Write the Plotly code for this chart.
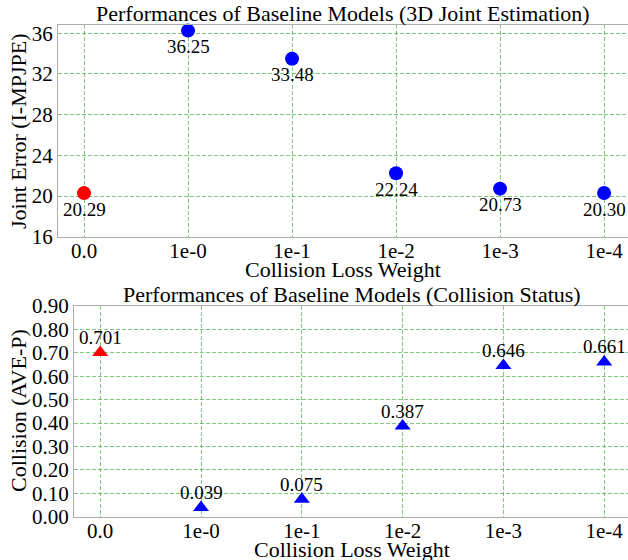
import plotly.graph_objects as go

categories = ["0.0", "1e-0", "1e-1", "1e-2", "1e-3", "1e-4"]
joint_error = [20.29, 36.25, 33.48, 22.24, 20.73, 20.30]
collision = [0.701, 0.039, 0.075, 0.387, 0.646, 0.661]
point_colors = ["#ff0000", "#0000ff", "#0000ff", "#0000ff", "#0000ff", "#0000ff"]
joint_ticks = [16, 20, 24, 28, 32, 36]
coll_ticks = [0.0, 0.1, 0.2, 0.3, 0.4, 0.5, 0.6, 0.7, 0.8, 0.9]

FONT = "Liberation Serif"
W, H = 628, 560

fig = go.Figure()
fig.add_trace(go.Scatter(
    x=categories, y=joint_error, mode="markers",
    marker=dict(symbol="circle", size=14, color=point_colors),
    xaxis="x", yaxis="y", showlegend=False, cliponaxis=False))
fig.add_trace(go.Scatter(
    x=categories, y=collision, mode="markers",
    marker=dict(symbol="triangle-up", size=14, color=point_colors),
    xaxis="x2", yaxis="y2", showlegend=False, cliponaxis=False))

lab_font = dict(family=FONT, size=19, color="black")
for i, v in enumerate(joint_error):
    fig.add_annotation(x=i, y=v, xref="x", yref="y", text=f"{v:.2f}", showarrow=False,
                       xanchor="center", yanchor="middle", yshift=-16, font=lab_font)
for i, v in enumerate(collision):
    fig.add_annotation(x=i, y=v, xref="x2", yref="y2", text=f"{v:.3f}", showarrow=False,
                       xanchor="center", yanchor="middle", yshift=15, font=lab_font)

grid = dict(showgrid=True, gridcolor="rgba(0,150,0,0.5)", griddash="4px,2px", gridwidth=1,
            zeroline=False, showline=True, linecolor="#ababab", linewidth=1.3,
            ticks="", automargin=False,
            tickfont=dict(family=FONT, size=21, color="black"))

fig.update_layout(
    width=W, height=H, margin=dict(l=0, r=0, t=0, b=0, autoexpand=False),
    plot_bgcolor="white", paper_bgcolor="white",
    font=dict(family=FONT, color="black"),
    xaxis=dict(domain=[58 / W, 1], anchor="y", type="category", range=[-0.25, 5.23],
               mirror=True, ticklabelstandoff=-5, **grid),
    yaxis=dict(domain=[1 - 236.8 / H, 1 - 25 / H], anchor="x", range=[16, 36.8],
               tickvals=joint_ticks, **grid),
    xaxis2=dict(domain=[74 / W, 1], anchor="y2", type="category", range=[-0.26, 5.236],
                mirror=True, ticklabelstandoff=-5, **grid),
    yaxis2=dict(domain=[1 - 516.7 / H, 1 - 306 / H], anchor="x2", range=[0, 0.9],
                tickvals=coll_ticks, tickformat=".2f", **grid),
)

ann_font = dict(family=FONT, size=22, color="black")
ann_common = dict(xref="paper", yref="paper", showarrow=False, font=ann_font,
                  xanchor="center", yanchor="middle")
fig.add_annotation(text="Performances of Baseline Models (3D Joint Estimation)",
                   x=343 / W, y=1 - 13 / H, **ann_common)
fig.add_annotation(text="Collision Loss Weight", x=343 / W, y=1 - 269 / H, **ann_common)
fig.add_annotation(text="Joint Error (I-MPJPE)", x=18 / W, y=1 - 131 / H, textangle=-90,
                   **ann_common)
fig.add_annotation(text="Performances of Baseline Models (Collision Status)",
                   x=352 / W, y=1 - 294 / H, **ann_common)
fig.add_annotation(text="Collision Loss Weight", x=352 / W, y=1 - 549 / H, **ann_common)
fig.add_annotation(text="Collision (AVE-P)", x=19 / W, y=1 - 411 / H, textangle=-90,
                   **ann_common)

fig.write_html("out.html")
